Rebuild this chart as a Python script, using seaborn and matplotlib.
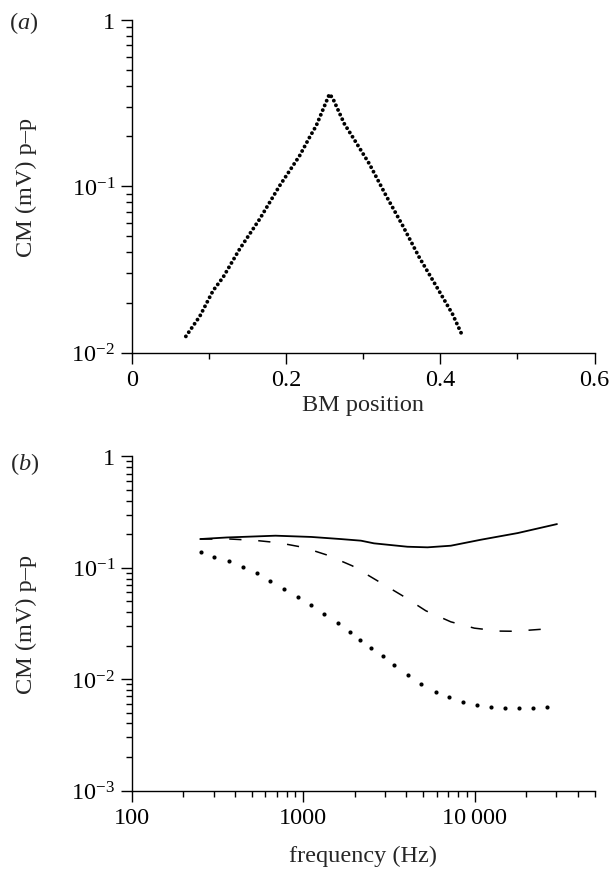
import matplotlib
matplotlib.use('Agg')
import matplotlib.pyplot as plt
import seaborn as sns
import pandas as pd
from matplotlib.ticker import FixedLocator, MultipleLocator, LogLocator, NullFormatter

# (a) CM amplitude along the basilar membrane
bm_position = [0.0702, 0.0883, 0.1055, 0.1185, 0.140, 0.1659, 0.1918, 0.2177, 0.2306, 0.2392, 0.250,
               0.2564, 0.2607, 0.2758, 0.2866, 0.3082, 0.3298, 0.3513, 0.3728, 0.3944, 0.4159, 0.4297]
cm_position = [0.01254, 0.01656, 0.0236, 0.0284, 0.042, 0.0635, 0.1007, 0.1525, 0.1968, 0.2307, 0.304,
               0.358, 0.337, 0.2364, 0.197, 0.136, 0.0877, 0.058, 0.0374, 0.0253, 0.01707, 0.01237]

# (b) CM amplitude vs stimulus frequency, three conditions
freq_solid = [251, 359, 690, 1117, 1652, 2173, 2589, 4055, 5309, 7260, 10880, 17820, 30200]
cm_solid = [0.181, 0.187, 0.194, 0.189, 0.181, 0.175, 0.1656, 0.1544, 0.1525, 0.1577, 0.1785, 0.2048, 0.2466]

freq_dashed = [251, 376, 526, 720, 1000, 1380, 1935, 2710, 3793, 5190, 7260, 9950, 13930, 17000, 30200]
cm_dashed = [0.181, 0.181, 0.176, 0.1676, 0.1525, 0.130, 0.104, 0.0764, 0.0561, 0.0411, 0.0327, 0.0287,
             0.027, 0.0269, 0.0287]

freq_dotted = [253, 304, 367, 443, 535, 644, 778, 936, 1108, 1319, 1586, 1865, 2143, 2477, 2911, 3404,
               4074, 4898, 5912, 7096, 8550, 10280, 12530, 14970, 18180, 21840, 26480]
cm_dotted = [0.1375, 0.1256, 0.114, 0.1009, 0.0891, 0.0765, 0.0644, 0.0542, 0.0462, 0.0384, 0.0317,
             0.0263, 0.0226, 0.0190, 0.0161, 0.0134, 0.01096, 0.0091, 0.0077, 0.00687, 0.00619, 0.00585,
             0.00562, 0.00547, 0.00547, 0.00554, 0.00565]

a_xticks = [0, 0.2, 0.4, 0.6]
a_xticklabels = ['0', '0.2', '0.4', '0.6']
a_yticks = [0.01, 0.1, 1]
a_yticklabels = [r'$\mathregular{10^{-2}}$', r'$\mathregular{10^{-1}}$', '1']
b_xticks = [100, 1000, 10000]
b_xticklabels = ['100', '1000', '10\u2009000']
b_yticks = [0.001, 0.01, 0.1, 1]
b_yticklabels = [r'$\mathregular{10^{-3}}$', r'$\mathregular{10^{-2}}$', r'$\mathregular{10^{-1}}$', '1']

sns.set_theme(style="ticks")
plt.rcParams['font.family'] = ['Liberation Serif', 'DejaVu Serif']
plt.rcParams['mathtext.fontset'] = 'custom'
plt.rcParams['mathtext.rm'] = 'Liberation Serif'
plt.rcParams['mathtext.it'] = 'Liberation Serif:italic'
plt.rcParams['font.size'] = 17.5
plt.rcParams['axes.labelsize'] = 17.5
plt.rcParams['axes.linewidth'] = 1.0
plt.rcParams['axes.edgecolor'] = 'black'
for ax_name in ['xtick', 'ytick']:
    plt.rcParams[f'{ax_name}.direction'] = 'out'
    plt.rcParams[f'{ax_name}.color'] = 'black'
    plt.rcParams[f'{ax_name}.major.size'] = 8
    plt.rcParams[f'{ax_name}.minor.size'] = 4
    plt.rcParams[f'{ax_name}.major.width'] = 1.0
    plt.rcParams[f'{ax_name}.minor.width'] = 1.0
    plt.rcParams[f'{ax_name}.labelsize'] = 17.5
    plt.rcParams[f'{ax_name}.major.pad'] = 4

fig = plt.figure(figsize=(6.1, 8.7), dpi=100)
ax_a = fig.add_axes([0.2159, 0.5934, 0.7587, 0.3828])
ax_b = fig.add_axes([0.2159, 0.0902, 0.7587, 0.3841])

# panel (a)
df_a = pd.DataFrame({'pos': bm_position, 'cm': cm_position})
sns.lineplot(data=df_a, x='pos', y='cm', ax=ax_a, color='black', lw=2.8,
             linestyle=(0, (0.01, 1.3)), dash_capstyle='round', sort=False)
ax_a.set_yscale('log')
ax_a.set_xlim(0, 0.6)
ax_a.set_ylim(0.01, 1)
ax_a.xaxis.set_major_locator(FixedLocator(a_xticks))
ax_a.set_xticklabels(a_xticklabels)
ax_a.xaxis.set_minor_locator(MultipleLocator(0.1))
ax_a.yaxis.set_major_locator(FixedLocator(a_yticks))
ax_a.set_yticklabels(a_yticklabels)
ax_a.yaxis.set_minor_locator(LogLocator(base=10, subs=range(2, 10)))
ax_a.yaxis.set_minor_formatter(NullFormatter())

# panel (b)
df_solid = pd.DataFrame({'f': freq_solid, 'cm': cm_solid})
df_dashed = pd.DataFrame({'f': freq_dashed, 'cm': cm_dashed})
df_dotted = pd.DataFrame({'f': freq_dotted, 'cm': cm_dotted})
sns.lineplot(data=df_solid, x='f', y='cm', ax=ax_b, color='black', lw=1.3)
sns.lineplot(data=df_dashed, x='f', y='cm', ax=ax_b, color='black', lw=1.1,
             linestyle=(0, (8, 11)))
sns.scatterplot(data=df_dotted, x='f', y='cm', ax=ax_b, color='black', s=9, linewidth=0)
ax_b.set_xscale('log')
ax_b.set_yscale('log')
ax_b.set_xlim(100, 50000)
ax_b.set_ylim(0.001, 1)
ax_b.xaxis.set_major_locator(FixedLocator(b_xticks))
ax_b.set_xticklabels(b_xticklabels)
ax_b.xaxis.set_minor_locator(LogLocator(base=10, subs=range(2, 10)))
ax_b.xaxis.set_minor_formatter(NullFormatter())
ax_b.yaxis.set_major_locator(FixedLocator(b_yticks))
ax_b.set_yticklabels(b_yticklabels)
ax_b.yaxis.set_minor_locator(LogLocator(base=10, subs=range(2, 10)))
ax_b.yaxis.set_minor_formatter(NullFormatter())

for ax in (ax_a, ax_b):
    sns.despine(ax=ax)
    ax.set_ylabel('CM (mV) p\u2013p', va='center')
    ax.yaxis.set_label_coords(-0.228, 0.5)

ax_a.set_xlabel('BM position', va='center')
ax_a.xaxis.set_label_coords(0.5, -0.154)
ax_b.set_xlabel('frequency (Hz)', va='center')
ax_b.xaxis.set_label_coords(0.5, -0.193)

fig.text(23.5 / 610, 1 - 23 / 870, r'($\mathit{a}$)', ha='center', va='center', fontsize=17.5)
fig.text(25 / 610, 1 - 464 / 870, r'($\mathit{b}$)', ha='center', va='center', fontsize=17.5)

fig.savefig('out.png', dpi=100, facecolor='white')
